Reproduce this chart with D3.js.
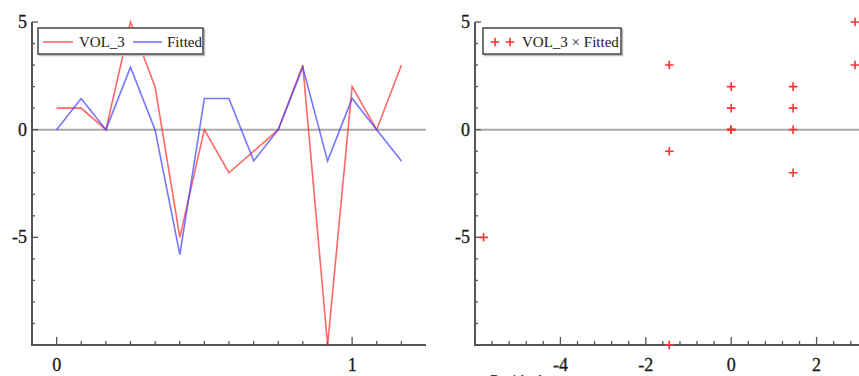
<!DOCTYPE html>
<html>
<head>
<meta charset="utf-8">
<script src="https://cdn.jsdelivr.net/npm/d3@7"></script>
<style>
  body { margin: 0; background: #fff; }
  svg { display: block; font-family: 'Liberation Serif', 'DejaVu Serif', serif; }
</style>
</head>
<body>
<div id="container"></div>
<script>
// observation positions (x of the left chart)
const obsX = [0, 0.083, 0.167, 0.25, 0.333, 0.417, 0.5, 0.583, 0.667, 0.75, 0.833, 0.917, 1, 1.083, 1.167]
const vol3 = [1, 1, 0, 5, 2, -5, 0, -2, -1, 0, 3, -10, 2, 0, 3]
const fitted = [0, 1.45, 0, 2.9, 0, -5.8, 1.45, 1.45, -1.45, 0, 2.9, -1.45, 1.45, 0, -1.45]

// tick labels
const leftXTicks = [0, 1]
const rightXTicks = [-4, -2, 0, 2]
const yTicks = [5, 0, -5]

const width = 859
const height = 376
const axisColor = '#555'
const redLine = 'rgba(255,40,40,0.7)'
const blueLine = 'rgba(60,60,255,0.7)'

const svg = d3.select('#container').append('svg')
    .attr('width', width)
    .attr('height', height)
    .style('overflow', 'hidden')

// shared y scale
const y = d3.scaleLinear().domain([-10, 5]).range([345, 22])

// left chart x
const xL = d3.scaleLinear().domain([-1 / 12, 15 / 12]).range([32, 426])
// right chart x (runs past the edge of the picture)
const xR = d3.scaleLinear().domain([-6, 4]).range([475, 902])

function drawFrame(x, left, right, minorX, majorX, xLabels) {
  const g = svg.append('g')

  // zero line
  g.append('line')
    .attr('x1', left).attr('x2', right)
    .attr('y1', y(0)).attr('y2', y(0))
    .attr('stroke', '#a8a8a8')
    .attr('stroke-width', 2)

  // y axis line + ticks (pointing inwards)
  g.append('line')
    .attr('x1', left).attr('x2', left)
    .attr('y1', y(5)).attr('y2', y(-10))
    .attr('stroke', axisColor).attr('stroke-width', 2)
  g.selectAll('.ytick')
    .data(d3.range(-9, 6))
    .enter()
    .append('line')
    .attr('x1', left)
    .attr('x2', d => left + (d % 5 === 0 ? 6 : 3))
    .attr('y1', d => y(d)).attr('y2', d => y(d))
    .attr('stroke', axisColor).attr('stroke-width', 1.3)

  g.selectAll('.ylab')
    .data(yTicks)
    .enter()
    .append('text')
    .attr('x', left - 5)
    .attr('y', d => y(d) + 6)
    .attr('text-anchor', 'end')
    .style('font-size', '18px')
    .attr('fill', '#1a1a1a')
    .attr('stroke', '#1a1a1a').attr('stroke-width', 0.3)
    .text(d => d)

  // x axis line + ticks
  g.append('line')
    .attr('x1', left - 1).attr('x2', right)
    .attr('y1', y(-10)).attr('y2', y(-10))
    .attr('stroke', axisColor).attr('stroke-width', 2)
  g.selectAll('.xtick')
    .data(minorX)
    .enter()
    .append('line')
    .attr('x1', d => x(d)).attr('x2', d => x(d))
    .attr('y1', y(-10))
    .attr('y2', d => y(-10) - (majorX.some(m => Math.abs(m - d) < 1e-6) ? 8 : 4))
    .attr('stroke', axisColor).attr('stroke-width', 1.3)

  g.selectAll('.xlab')
    .data(xLabels)
    .enter()
    .append('text')
    .attr('x', d => x(d))
    .attr('y', 371)
    .attr('text-anchor', 'middle')
    .style('font-size', '18px')
    .attr('fill', '#1a1a1a')
    .attr('stroke', '#1a1a1a').attr('stroke-width', 0.3)
    .text(d => d)
}

function drawLegendBox(x0, y0, w, h) {
  svg.append('rect')
    .attr('x', x0 + 1.5).attr('y', y0 + 1.5)
    .attr('width', w).attr('height', h)
    .attr('fill', 'none')
    .attr('stroke', '#bbb').attr('stroke-width', 1.5)
  svg.append('rect')
    .attr('x', x0).attr('y', y0)
    .attr('width', w).attr('height', h)
    .attr('fill', '#fff')
    .attr('stroke', '#444').attr('stroke-width', 1.5)
}

// ---------- LEFT: series vs fitted -------------------------------
drawFrame(xL, 32, 426, d3.range(0, 15).map(i => i / 12), [0, 1], leftXTicks)

const line = (vals) => d3.line()
  .x((d, i) => xL(obsX[i]))
  .y(d => y(d))(vals)

svg.append('path')
  .attr('d', line(vol3))
  .attr('fill', 'none')
  .attr('stroke', redLine)
  .attr('stroke-width', 1.6)

svg.append('path')
  .attr('d', line(fitted))
  .attr('fill', 'none')
  .attr('stroke', blueLine)
  .attr('stroke-width', 1.6)

drawLegendBox(38, 28, 165, 26)
svg.append('line').attr('x1', 43).attr('x2', 73).attr('y1', 42).attr('y2', 42)
  .attr('stroke', redLine).attr('stroke-width', 1.6)
svg.append('text').attr('x', 79).attr('y', 47).style('font-size', '15px').attr('fill', '#1a1a1a').text('VOL_3')
svg.append('line').attr('x1', 133).attr('x2', 162).attr('y1', 42).attr('y2', 42)
  .attr('stroke', blueLine).attr('stroke-width', 1.6)
svg.append('text').attr('x', 167).attr('y', 47).style('font-size', '15px').attr('fill', '#1a1a1a').text('Fitted')

// ---------- RIGHT: scatter VOL_3 x Fitted -------------------------------
drawFrame(xR, 475, 902, d3.range(-6, 4.01, 0.4), [-6, -4, -2, 0, 2, 4], rightXTicks)

const plus = d3.symbol().type(d3.symbolCross).size(26)
svg.append('g')
  .selectAll('path')
  .data(fitted.map((f, i) => [f, vol3[i]]))
  .enter()
  .append('path')
  .attr('d', d3.symbol().type(d3.symbolPlus || d3.symbolCross).size(26))
  .attr('transform', d => `translate(${xR(d[0])},${y(d[1])})`)
  .attr('fill', 'none')
  .attr('stroke', '#ff3030')
  .attr('stroke-width', 1.6)

drawLegendBox(483, 28, 138, 26)
svg.selectAll('.legplus')
  .data([495, 510])
  .enter()
  .append('path')
  .attr('d', d3.symbol().type(d3.symbolPlus || d3.symbolCross).size(26))
  .attr('transform', d => `translate(${d},42)`)
  .attr('fill', 'none')
  .attr('stroke', '#ff3030')
  .attr('stroke-width', 1.6)
svg.append('text').attr('x', 522).attr('y', 47).style('font-size', '15px').attr('fill', '#1a1a1a').text('VOL_3 × Fitted')

// axis title, cut off by the bottom of the picture (as in the original)
svg.append('text')
  .attr('x', 490).attr('y', 385)
  .style('font-size', '15px')
  .attr('fill', '#1a1a1a')
  .text('Residuals')
</script>
</body>
</html>
